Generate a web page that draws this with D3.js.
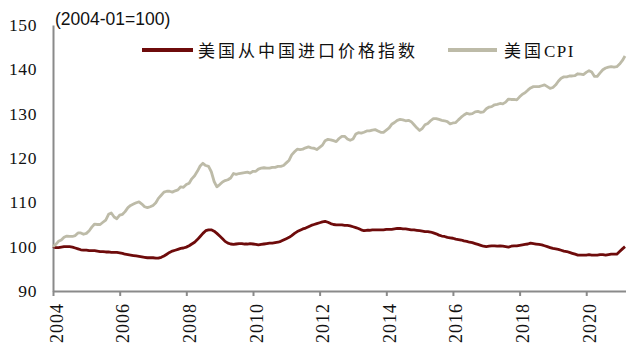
<!DOCTYPE html>
<html>
<head>
<meta charset="utf-8">
<script src="https://cdn.jsdelivr.net/npm/d3@7/dist/d3.min.js"></script>
<style>
  html, body { margin: 0; padding: 0; background: #ffffff; }
  svg { display: block; }
</style>
</head>
<body>
<svg id="chart" width="628" height="344"></svg>
<script>
// ---------- data ----------
const unitNote = "(2004-01=100)";
const seriesNames = ["美国从中国进口价格指数", "美国CPI"];
const xTickLabels = ["2004","2006","2008","2010","2012","2014","2016","2018","2020"];
const yTickValues = [90, 100, 110, 120, 130, 140, 150];

// monthly, 2004-01 .. 2021-03
const importPrice = [
  100.0,99.8,99.8,99.9,100.0,100.0,100.0,99.9,99.7,99.5,99.3,99.2,
  99.2,99.1,99.1,99.1,99.0,98.9,98.9,98.8,98.8,98.7,98.7,98.7,
  98.6,98.5,98.3,98.2,98.1,98.0,97.9,97.8,97.7,97.6,97.5,97.5,
  97.5,97.4,97.4,97.6,97.9,98.3,98.7,99.0,99.2,99.4,99.6,99.7,
  99.9,100.2,100.6,101.0,101.6,102.3,103.0,103.6,103.8,103.8,103.5,103.0,
  102.4,101.8,101.2,100.8,100.6,100.5,100.6,100.7,100.7,100.6,100.6,100.7,
  100.6,100.5,100.4,100.5,100.6,100.7,100.8,100.8,100.9,101.0,101.2,101.5,
  101.8,102.1,102.5,103.0,103.4,103.7,104.0,104.2,104.5,104.8,105.0,105.2,
  105.4,105.6,105.7,105.5,105.2,105.0,104.9,104.9,104.9,104.8,104.8,104.7,
  104.5,104.3,104.1,103.8,103.6,103.7,103.7,103.8,103.8,103.8,103.8,103.8,
  103.9,103.9,103.9,104.0,104.1,104.1,104.0,104.0,103.9,103.8,103.8,103.7,
  103.6,103.5,103.4,103.4,103.3,103.1,102.9,102.6,102.4,102.3,102.1,102.0,
  101.9,101.7,101.6,101.5,101.3,101.2,101.0,100.9,100.7,100.5,100.3,100.1,
  100.0,100.1,100.2,100.2,100.1,100.2,100.1,100.0,99.9,100.1,100.2,100.2,
  100.3,100.4,100.5,100.6,100.8,100.7,100.6,100.5,100.4,100.2,100.0,99.8,
  99.6,99.5,99.4,99.2,99.0,98.9,98.7,98.5,98.3,98.1,98.1,98.1,
  98.1,98.2,98.1,98.1,98.1,98.2,98.2,98.1,98.2,98.3,98.3,98.3,
  98.9,99.5,100.0
];

const usCPI = [
  100.0,100.5,101.2,101.5,102.1,102.4,102.3,102.3,102.5,103.1,103.1,102.8,
  103.0,103.6,104.4,105.1,105.0,105.0,105.5,106.0,107.3,107.6,106.7,106.3,
  107.1,107.3,107.9,108.8,109.3,109.6,109.9,110.1,109.6,109.0,108.8,109.0,
  109.3,109.9,110.9,111.6,112.3,112.5,112.5,112.3,112.6,112.8,113.5,113.4,
  114.0,114.3,115.3,116.0,117.0,118.2,118.8,118.3,118.1,116.9,114.7,113.5,
  114.0,114.6,114.9,115.1,115.5,116.5,116.3,116.5,116.6,116.7,116.8,116.6,
  117.0,117.0,117.5,117.7,117.8,117.7,117.7,117.9,117.9,118.1,118.1,118.3,
  118.9,119.5,120.7,121.4,122.0,121.9,122.0,122.3,122.5,122.3,122.2,121.9,
  122.4,122.9,123.9,124.2,124.1,123.9,123.7,124.4,124.9,124.9,124.3,124.0,
  124.3,125.4,125.7,125.6,125.8,126.1,126.1,126.3,126.4,126.1,125.8,125.8,
  126.3,126.8,127.6,128.0,128.5,128.7,128.6,128.4,128.5,128.2,127.5,126.8,
  126.2,126.7,127.5,127.8,128.4,128.9,128.9,128.7,128.5,128.4,128.2,127.7,
  127.9,128.0,128.6,129.2,129.7,130.1,129.9,130.0,130.4,130.5,130.3,130.4,
  131.1,131.5,131.6,132.0,132.1,132.3,132.2,132.6,133.3,133.2,133.2,133.1,
  133.8,134.4,134.7,135.3,135.8,136.1,136.1,136.1,136.3,136.5,136.1,135.7,
  135.9,136.5,137.3,138.0,138.3,138.3,138.5,138.5,138.6,139.0,138.9,138.8,
  139.3,139.7,139.4,138.4,138.4,139.2,139.9,140.3,140.5,140.6,140.5,140.6,
  141.2,142.0,143.0
];

// ---------- setup ----------
const colors = ["#6e0b0b", "#bdbba8"];
const axisColor = "#8a8a8a";
const svg = d3.select("#chart");
svg.append("rect").attr("width", 628).attr("height", 344).attr("fill", "#fff");

const dates = usCPI.map((_, i) => new Date(2004, i, 1));
const x = d3.scaleTime()
  .domain([dates[0], dates[dates.length - 1]])
  .range([53, 625]);
const y = d3.scaleLinear().domain([90, 150]).range([291, 25]);

// ---------- axes ----------
const yAxis = svg.append("g")
  .attr("transform", "translate(53,0)")
  .call(d3.axisLeft(y).tickValues(yTickValues).tickSize(0).tickPadding(16).tickFormat(d3.format("d")));
yAxis.select(".domain").attr("stroke", axisColor).attr("stroke-width", 2);
yAxis.selectAll("text")
  .attr("fill", "#111")
  .style("font-family", "'Liberation Serif', 'Times New Roman', serif")
  .style("font-size", "17.5px")
  .style("letter-spacing", "0.6px");

const xTickDates = xTickLabels.map(s => new Date(+s, 0, 1));
const xAxis = svg.append("g")
  .attr("transform", "translate(0,291)")
  .call(d3.axisBottom(x).tickValues(xTickDates).tickSize(5).tickSizeOuter(0)
    .tickFormat((d, i) => xTickLabels[i]));
xAxis.select(".domain").attr("stroke", axisColor).attr("stroke-width", 2)
  .attr("d", "M53,0.5H626");
xAxis.selectAll(".tick line").attr("stroke", axisColor).attr("stroke-width", 2);
xAxis.selectAll("text")
  .attr("fill", "#111")
  .attr("transform", "rotate(-90)")
  .attr("x", -12).attr("y", 9).attr("dy", 0)
  .style("text-anchor", "end")
  .style("font-family", "'Liberation Serif', 'Times New Roman', serif")
  .style("font-size", "18px")
  .style("letter-spacing", "1px");

// ---------- lines ----------
const line = d3.line().x((d, i) => x(dates[i])).y(d => y(d));
[importPrice, usCPI].forEach((s, k) => {
  svg.append("path")
    .datum(s)
    .attr("fill", "none")
    .attr("stroke", colors[k])
    .attr("stroke-width", 2.8)
    .attr("stroke-linejoin", "round")
    .attr("d", line);
});

// ---------- title / unit ----------
svg.append("text")
  .attr("x", 55).attr("y", 25)
  .attr("fill", "#111")
  .style("font-family", "'Liberation Sans', Arial, sans-serif")
  .style("font-size", "17.5px")
  .text(unitNote);

// ---------- legend ----------
const legendItems = [
  { x1: 142, x2: 193, tx: 198 },
  { x1: 448, x2: 497, tx: 504 }
];
legendItems.forEach((it, k) => {
  svg.append("line")
    .attr("x1", it.x1).attr("x2", it.x2)
    .attr("y1", 50).attr("y2", 50)
    .attr("stroke", colors[k]).attr("stroke-width", 4);
  const t = svg.append("text")
    .attr("x", it.tx).attr("y", 57)
    .attr("fill", "#111")
    .style("font-size", "17px");
  // split CJK and Latin runs so Latin uses a serif face with tighter spacing
  const runs = seriesNames[k].match(/[\u4e00-\u9fff]+|[^\u4e00-\u9fff]+/g);
  runs.forEach(r => {
    const cjk = /[\u4e00-\u9fff]/.test(r);
    t.append("tspan")
      .style("font-family", cjk ? "'Noto Sans CJK SC', sans-serif" : "'Liberation Serif', 'Times New Roman', serif")
      .style("letter-spacing", cjk ? "3px" : "1.5px")
      .text(r);
  });
});
</script>
</body>
</html>
